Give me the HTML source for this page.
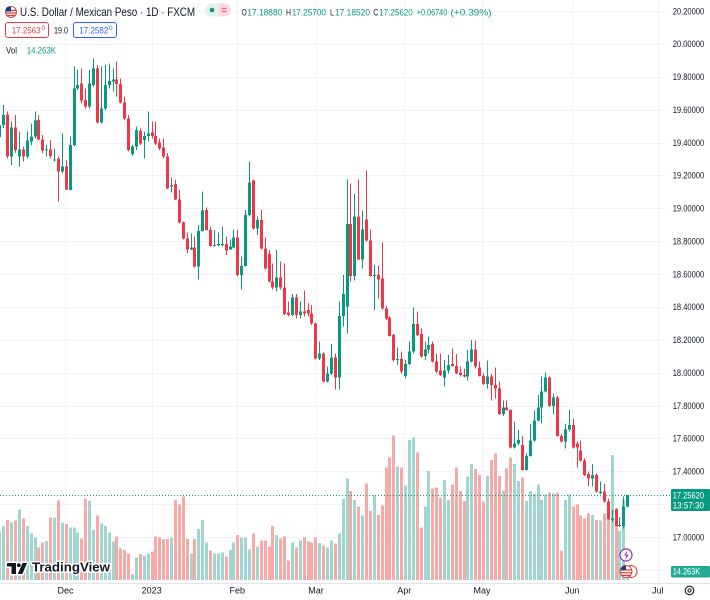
<!DOCTYPE html>
<html><head><meta charset="utf-8">
<style>
html,body{margin:0;padding:0;background:#fff;width:710px;height:600px;overflow:hidden}
svg{display:block;font-family:"Liberation Sans",sans-serif}
</style></head><body>
<svg id="s" width="710" height="600" viewBox="0 0 710 600" xmlns="http://www.w3.org/2000/svg">
<rect width="710" height="600" fill="#fff"/>
<g id="grid" stroke="#f0f3fa" stroke-width="1" shape-rendering="crispEdges"></g>
<g id="vol" shape-rendering="crispEdges"></g>
<g id="cand" shape-rendering="crispEdges"></g>
<line x1="0" y1="495.5" x2="671" y2="495.5" stroke="#089981" stroke-width="1" stroke-dasharray="1,2"/>

<!-- header -->
<g>
  <circle cx="11" cy="12" r="5.5" fill="#fff" stroke="#c62828" stroke-width="0.8"/>
  <path d="M6 10.5h10M6 13h10M7 15.5h8" stroke="#e53935" stroke-width="1.2"/>
  <path d="M6.2 7.8a5.5 5.5 0 0 1 4.8-1.3v5h-5.3a5.5 5.5 0 0 1 0.5-3.7z" fill="#1e3a8a"/>
  <text x="20" y="16" font-size="12" fill="#131722" textLength="175" lengthAdjust="spacingAndGlyphs">U.S. Dollar / Mexican Peso · 1D · FXCM</text>
  <rect x="205" y="3.5" width="26" height="13" rx="6.5" fill="#e3f1ee"/>
  <path d="M218 3.5h6.5a6.5 6.5 0 0 1 0 13H218z" fill="#fbdbe0"/>
  <circle cx="212" cy="10" r="2.3" fill="#089981"/>
  <path d="M221.5 8.5h5M221.5 11.5h5" stroke="#f06292" stroke-width="1.2"/>
  <g font-size="9" fill="#089981">
    <text x="241.7" y="15.7" fill="#131722" textLength="5" lengthAdjust="spacingAndGlyphs">O</text>
    <text x="247.3" y="15.7" textLength="35" lengthAdjust="spacingAndGlyphs">17.18880</text>
    <text x="286" y="15.7" fill="#131722" textLength="5" lengthAdjust="spacingAndGlyphs">H</text>
    <text x="291.7" y="15.7" textLength="34.3" lengthAdjust="spacingAndGlyphs">17.25700</text>
    <text x="330" y="15.7" fill="#131722" textLength="4" lengthAdjust="spacingAndGlyphs">L</text>
    <text x="335" y="15.7" textLength="35" lengthAdjust="spacingAndGlyphs">17.18520</text>
    <text x="373.3" y="15.7" fill="#131722" textLength="5" lengthAdjust="spacingAndGlyphs">C</text>
    <text x="379.3" y="15.7" textLength="33.4" lengthAdjust="spacingAndGlyphs">17.25620</text>
    <text x="416.7" y="15.7" textLength="30.6" lengthAdjust="spacingAndGlyphs">+0.06740</text>
    <text x="450.5" y="15.7" textLength="41" lengthAdjust="spacingAndGlyphs">(+0.39%)</text>
  </g>
  <rect x="5.5" y="22.5" width="43" height="15" rx="2.5" fill="#fff" stroke="#f23645" stroke-width="1"/>
  <text x="11.7" y="33.5" font-size="9.5" fill="#f23645" textLength="29" lengthAdjust="spacingAndGlyphs">17.2563</text>
  <text x="41.5" y="30" font-size="6.5" fill="#f23645">0</text>
  <text x="54" y="33.3" font-size="9" fill="#131722" textLength="14" lengthAdjust="spacingAndGlyphs">19.0</text>
  <rect x="73.5" y="22.5" width="43" height="15" rx="2.5" fill="#fff" stroke="#2962ff" stroke-width="1"/>
  <text x="79.3" y="33.5" font-size="9.5" fill="#2962ff" textLength="29" lengthAdjust="spacingAndGlyphs">17.2582</text>
  <text x="109" y="30" font-size="6.5" fill="#2962ff">0</text>
  <text x="6" y="53.3" font-size="9" fill="#131722" textLength="11" lengthAdjust="spacingAndGlyphs">Vol</text>
  <text x="26.7" y="53.3" font-size="9" fill="#089981" textLength="29.3" lengthAdjust="spacingAndGlyphs">14.263K</text>
</g>

<!-- price axis -->
<g id="paxis" font-size="9.5" fill="#131722"></g>

<!-- last price label -->
<rect x="671" y="489" width="39" height="22" rx="1.5" fill="#089981"/>
<text x="672.7" y="498.6" font-size="9.5" fill="#fff" textLength="31.3" lengthAdjust="spacingAndGlyphs">17.25620</text>
<text x="672.7" y="508.6" font-size="9.5" fill="#fff" textLength="31.3" lengthAdjust="spacingAndGlyphs">13:57:30</text>
<rect x="671" y="566" width="39" height="11.5" rx="1.5" fill="#22ab94"/>
<text x="672.7" y="574.6" font-size="9.5" fill="#fff" textLength="27.5" lengthAdjust="spacingAndGlyphs">14.263K</text>

<!-- bottom-right icons -->
<circle cx="626" cy="555" r="6" fill="#fff" stroke="#9c27b0" stroke-width="1.2"/>
<path d="M627.5 550.5l-3.5 5h2.5l-1.5 4.5 3.8-5.3h-2.5z" fill="#9c27b0"/>
<g>
  <circle cx="631" cy="571.5" r="6" fill="#fff" stroke="#e53935" stroke-width="1"/>
  <circle cx="626" cy="571.5" r="6" fill="#fff" stroke="#e53935" stroke-width="1"/>
  <path d="M620.5 570h11M620.5 572.7h11M621.5 575.4h9" stroke="#e53935" stroke-width="1.2"/>
  <path d="M621.2 568.5a6 6 0 0 1 4.8-3v4.5h-5.5z" fill="#1e3a8a"/>
</g>

<!-- time axis -->
<line x1="0" y1="583.5" x2="710" y2="583.5" stroke="#e0e3eb" stroke-width="1"/>
<g font-size="9" fill="#131722" text-anchor="middle">
  <text x="65.5" y="593.3">Dec</text>
  <text x="151.7" y="593.3">2023</text>
  <text x="237.3" y="593.3">Feb</text>
  <text x="316" y="593.3">Mar</text>
  <text x="404.3" y="593.3">Apr</text>
  <text x="482" y="593.3">May</text>
  <text x="572.3" y="593.3">Jun</text>
  <text x="657.7" y="593.3">Jul</text>
</g>
<circle cx="689.5" cy="590.5" r="4.3" fill="none" stroke="#131722" stroke-width="1.1"/>
<circle cx="689.5" cy="590.5" r="1.6" fill="none" stroke="#131722" stroke-width="1"/>

<!-- TradingView watermark -->
<g>
  <g stroke="#fff" stroke-width="3" stroke-linejoin="round">
    <path d="M7 563h9v11h-4.5v-7.5H7z" fill="#fff"/>
    <circle cx="18.8" cy="565.2" r="1.9" fill="#fff"/>
    <path d="M22.5 563H27l-4.6 11h-4.6z" fill="#fff"/>
  </g>
  <path d="M7 563h9v11h-4.5v-7.5H7z" fill="#131722"/>
  <circle cx="18.8" cy="565.2" r="1.9" fill="#131722"/>
  <path d="M22.5 563H27l-4.6 11h-4.6z" fill="#131722"/>
  <text x="32" y="571.3" font-size="12.5" font-weight="bold" fill="#131722" stroke="#fff" stroke-width="3" paint-order="stroke" stroke-linejoin="round" textLength="78" lengthAdjust="spacingAndGlyphs">TradingView</text>
</g>
</svg>
<script>
(function(){
var NS="http://www.w3.org/2000/svg";
function el(tag,attrs,parent,txt){var e=document.createElementNS(NS,tag);for(var k in attrs)e.setAttribute(k,attrs[k]);if(txt!==undefined)e.textContent=txt;parent.appendChild(e);return e;}
var grid=document.getElementById('grid');
for(var k=0;k<=17;k++){var y=Math.round(11+k*32.875)+0.5;el('line',{x1:0,x2:667,y1:y,y2:y},grid);}
[65,151.7,237.3,316,404.3,481.7,572.3,658].forEach(function(x){var xx=Math.round(x)+0.5;el('line',{x1:xx,x2:xx,y1:0,y2:583},grid);});
var pa=document.getElementById('paxis');
var labs=['20.20000','20.00000','19.80000','19.60000','19.40000','19.20000','19.00000','18.80000','18.60000','18.40000','18.20000','18.00000','17.80000','17.60000','17.40000',null,'17.00000'];
labs.forEach(function(t,k){if(!t)return;var y=11+k*32.875+3.3;el('text',{x:672.7,y:y,textLength:31.5,lengthAdjust:'spacingAndGlyphs'},pa,t);});

var C=[[1,125,137,120,140],[1,115,125,105,128],[0,114.3,156.7,111.7,158.3],[1,127.7,156.7,121.7,165],[0,127.7,150,115,153],
[1,149.3,156.7,131.7,166.7],[0,149.3,156.7,146.7,161.7],[1,140.7,156.7,131.7,158.3],[1,136.7,141.7,123.3,145],[1,120.7,136.7,111.7,138.3],
[0,120,139.3,115,140],[0,139.3,150.7,135,153.3],[1,149.3,150.7,145,156.7],[0,149.3,156,140,158.3],[1,159.3,160.7,148.3,161.7],
[0,158.3,171.7,156.7,201.7],[1,166.7,171.7,133.3,173.3],[0,166.7,189.3,160,190],[1,145,190,136.7,190],[1,88.3,145,66.7,146.7],
[1,85,88.3,70,90],[0,83.3,100.7,68.3,103.3],[0,100,106.7,88.3,108.3],[1,83.3,106.7,70,108.3],[1,68.3,85,58.3,86.7],
[0,68.3,122.7,65,123.3],[1,108.3,122.7,66.7,123.3],[1,85,108.3,65,110],[1,81,85,63.3,88.3],[1,79.3,81.7,68.3,91.7],
[0,79.3,84,61.7,96.7],[0,84,102.7,78.3,103.3],[0,102.7,118.3,96.7,120],[0,118.3,150,115,151.7],[1,146.7,154,145,156],
[1,130,146.7,126.7,150],[0,131,143.3,128.3,145],[1,136,140,131.7,158.3],[1,133.3,136,111.7,141.7],[0,132.7,136,121.7,138.3],
[0,136,143.3,121.7,145],[0,142.7,148.3,138.3,150],[0,147.7,156.7,138.3,158.3],[0,156.7,188.3,153,189],[1,185,186.7,177.3,192.7],
[0,184,199.3,180,200],[0,199.3,222.7,190,223.3],[0,222.7,238.3,221.7,239.3],[0,238.3,249.3,232.7,253.3],[1,247.3,249.3,233.3,250],
[0,247.3,266.7,236.7,267.3],[1,231,266.7,225,279.3],[1,210.7,231,191.7,231.7],[0,210,230,207.3,230.7],[0,230,246,226.7,246.7],
[1,245,246,230,246.7],[1,244,245.3,232.7,246],[1,244,245,226.7,246.7],[0,244,250.7,236.7,255],[1,246.7,249.3,239.3,250],
[1,237.3,247.3,229.3,248.3],[0,237.3,275,230,276],[1,266,275,256.7,289.3],[1,215,266,210,266.7],[1,182.3,215,161.7,216.7],
[0,180.7,228.3,179.3,229.3],[1,220,228.3,216.7,235],[0,220,248.3,210,249.3],[0,248.3,268.3,237.3,269.3],[0,254,281.7,250,282.7],
[0,281.7,287.3,263.3,289.3],[1,277.7,287.3,250,291.7],[0,277.7,287.3,261.7,289.3],[0,287.3,314,263.3,315],[0,312.7,315,301.7,316.7],
[1,297.7,315,294,316],[0,297.7,315,294,318.3],[1,311.7,315,301.7,318.3],[0,311.7,313.3,290.7,316.7],[0,310,313.3,303,316.7],
[0,313.3,323.3,305,325],[0,323.3,358.3,322.7,359.3],[1,353.3,358.3,341.7,360],[0,353.3,381.7,352.7,382.7],[1,373.3,381.7,366.7,382.7],
[1,357.3,373.3,344,375],[0,357.3,377.3,353.3,389.3],[1,316,377.3,301.7,389.3],[1,294,316,275,326.7],[1,224,306.7,179.3,333.3],
[0,224,276,183.3,281.7],[1,216.7,276,194,280.7],[0,216.7,259.3,179.3,260],[1,229.3,259.3,210.7,268.3],[0,219.3,240.7,170.7,241.7],
[0,240.7,276,229.3,276.7],[1,275,276,265,310],[0,275,279.3,266,298.3],[0,278.3,308.3,242.7,309.3],[0,308.3,318.3,306,320],
[0,317.3,336,316.7,336.7],[0,335,360,334,361.7],[1,359,360,347.3,365],[0,359,371.7,351.7,373.3],[1,364,376,360,378.3],
[1,351.7,364,341.7,365],[1,324,351.7,307.3,353.3],[0,324,335,311.7,336],[0,334,356.7,328.3,357.3],[1,349.3,356,341.7,360],
[1,345,349.3,336.7,353.3],[0,344,361.7,341.7,362.7],[0,361.7,371.7,353.3,373.3],[0,370.7,375,353.3,376],[1,370.7,377.3,360,386.7],
[1,365,370.7,355,373.3],[0,364,366,348.3,366.7],[0,366,373.3,354,374],[0,372.7,375,366.7,376.7],[0,375,376.7,368.3,377.3],
[1,361.7,376.7,350,380.7],[1,349.3,361.7,340,362.7],[0,349.3,366.7,340.7,368.3],[0,367.3,376,361.7,376.7],[0,376,384,373.3,385],
[1,376.7,384,360.7,388.3],[0,376.7,385,374,400.7],[0,385,388.3,367.3,398.3],[0,388.3,414,381.7,415],[1,407.3,414,400.7,416],
[0,407.3,410,400.7,410.7],[0,410,447.3,409.3,448.3],[1,443.3,447.3,421.7,448.3],[1,440,443.3,430,445],[0,445,470,436,470.7],
[1,456,470,453.3,470.7],[1,440.7,456,424,456.7],[1,420.7,440.7,410.7,441.7],[1,407.3,420.7,395,421.7],[1,391.7,407.3,376.7,423.3],
[1,377.3,391.7,372.7,392.7],[0,377.3,406,376.7,406.7],[1,397.3,406,393.3,414],[0,397.3,436,396,436.7],[0,436,441.7,434,442.7],
[1,429.3,441.7,424,448.3],[1,425,429.3,410,431.7],[0,425,447.3,418.3,448.3],[0,443.3,447.3,441.7,467.3],[0,450.7,460.7,440.7,461.7],
[0,460.7,475,458.3,476],[0,474,478.3,471.7,486],[1,475,478.3,464,486.7],[0,475,491.7,473.3,492.7],[1,491.7,492.7,481.7,494],
[0,491.7,501.7,484,502.7],[0,501.7,519.3,498.3,520],[1,518.7,520,510,522],[0,509.3,526,508.3,526.7],[1,525,526,517,527],
[1,506.7,526,496.7,528.3],[1,495,506.7,495,507.3]];
var V=[531.7,526,520,522.7,520.7,509.3,518.7,526,533.3,537.3,547.3,542.7,541,517.7,517.7,500.7,522.7,524,527.7,527.7,
532.7,538.3,498.3,501,530,515.7,523.3,526,532.7,541.7,536.7,548.3,550,553.3,574,557.3,554,555.7,553.3,551.7,
536.7,537.3,539,539,537.3,500,504.3,496.7,539,553.3,539,529,520,542.7,550.7,553.3,553.3,552.7,556.7,550,
542.3,535,537.7,537.7,549.3,533.3,546.7,540.7,540.7,546.7,526,535,538.3,536.7,560.7,542.3,547.3,540.7,537.3,541.7,
542.3,537.5,543,545.7,547.3,540.7,543.3,533.3,499,478.3,491,500,506.7,515.7,483.3,511,495.7,515,505.7,467.7,
457.7,435.7,466.7,467.7,485.7,440,437.3,452.7,527.7,506.7,471,488.3,487.7,497.7,480,500,484.3,467.3,491,501,
476.7,464,469,475,501.7,476,460,453.3,476,490.7,468.3,457.7,464,481,477.7,501,491,494,484.3,500,
494.3,492.3,493.3,492.3,550.7,500,494.3,506.7,504.3,515.7,518.3,513.3,515,520,520.7,513.3,520,455,508.3,531,500,572];
var VC={53:1};
var vg=document.getElementById('vol'),cg=document.getElementById('cand');
C.forEach(function(c,i){
  var x=3.3+(i-1)*3.9, xc=Math.round(x);
  var up=c[0];
  var vup=(VC[i]!==undefined)?VC[i]:up;
  var vt=V[i];
  el('rect',{x:xc-1,y:vt,width:3,height:Math.max(1,580-vt),fill:vup?'#a0d6cf':'#f7a9a7'},vg);
  var col=up?'#089981':'#f23645';
  el('rect',{x:xc,y:c[3],width:1,height:Math.max(1,c[4]-c[3]),fill:col},cg);
  el('rect',{x:xc-1,y:c[1],width:3,height:Math.max(1.2,c[2]-c[1]),fill:col},cg);
});
})();
</script>
</body></html>
